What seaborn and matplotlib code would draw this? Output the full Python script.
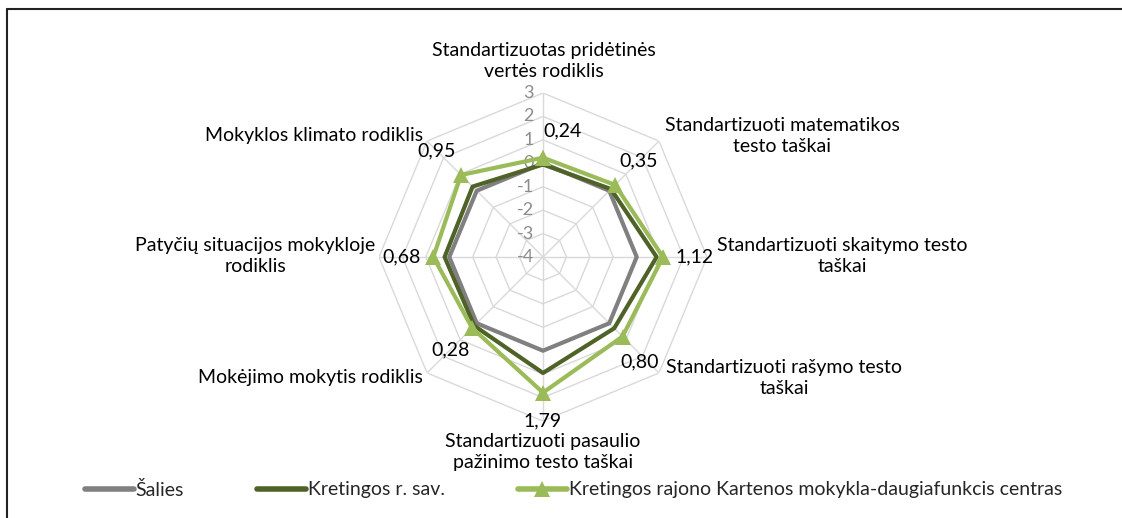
import numpy as np
import pandas as pd
import matplotlib
matplotlib.use('Agg')
import matplotlib.pyplot as plt
import seaborn as sns
from matplotlib.lines import Line2D

# rodikliai (pagal laikrodžio rodyklę nuo viršaus)
categories = [
    'Standartizuotas pridėtinės\nvertės rodiklis',
    'Standartizuoti matematikos\ntesto taškai',
    'Standartizuoti skaitymo testo\ntaškai',
    'Standartizuoti rašymo testo\ntaškai',
    'Standartizuoti pasaulio\npažinimo testo taškai',
    'Mokėjimo mokytis rodiklis',
    'Patyčių situacijos mokykloje\nrodiklis',
    'Mokyklos klimato rodiklis',
]
salies = [0, 0, 0, 0, 0, 0, 0, 0]
kretingos_sav = [-0.05, 0.1, 0.85, 0.3, 0.95, 0.15, 0.2, 0.25]
kartena = [0.24, 0.35, 1.12, 0.80, 1.79, 0.28, 0.68, 0.95]
r_ticks = [-4, -3, -2, -1, 0, 1, 2, 3]

series_names = ['Šalies', 'Kretingos r. sav.',
                'Kretingos rajono Kartenos mokykla-daugiafunkcis centras']
colors = ['#808080', '#4f6228', '#9bbb59']

sns.set_theme(style='white')
plt.rcParams['font.family'] = ['Lato', 'DejaVu Sans']

W, H = 1122, 518
fig = plt.figure(figsize=(W / 100, H / 100), dpi=100)
cx, cy, rad = 543, 257, 164
ax = fig.add_axes([(cx - rad) / W, (H - cy - rad) / H, 2 * rad / W, 2 * rad / H],
                  projection='polar')
ax.set_theta_zero_location('N')
ax.set_theta_direction(-1)

theta = np.linspace(0, 2 * np.pi, len(categories), endpoint=False)
theta_closed = np.append(theta, 2 * np.pi)

# tinklelis - aštuonkampiai
grid_c = '#d9d9d9'
for r in r_ticks[1:]:
    ax.plot(theta_closed, [r] * len(theta_closed), color=grid_c, lw=1, zorder=1)
for t in theta:
    ax.plot([t, t], [r_ticks[0], r_ticks[-1]], color=grid_c, lw=1, zorder=1)

# duomenų linijos
for name, vals, col in zip(series_names, [salies, kretingos_sav, kartena], colors):
    df = pd.DataFrame({'theta': theta_closed, 'value': vals + [vals[0]]})
    mk = '^' if name == series_names[2] else None
    sns.lineplot(data=df, x='theta', y='value', sort=False, estimator=None,
                 color=col, linewidth=3, marker=mk, markersize=12,
                 markeredgewidth=0, ax=ax, label=name, zorder=3)

ax.set_ylim(r_ticks[0], r_ticks[-1])
ax.grid(False)
ax.spines['polar'].set_visible(False)
ax.set_xticks([])
ax.set_yticks([])
ax.set_xlabel('')
ax.set_ylabel('')
ax.get_legend().remove()

# ašies skalės žymės
for v in r_ticks:
    ax.annotate(str(v), xy=(0, v), xytext=(-9, 0),
                textcoords='offset pixels', ha='right', va='center',
                fontsize=13, color='#8c8c8c', zorder=2)

# duomenų žymos (tik mokyklai)
label_off = [(19, 27), (24, 24), (32, 0), (17, -25), (0, -28), (-22, -22), (-32, 0), (-24, 24)]
for t, v, off in zip(theta, kartena, label_off):
    ax.annotate(f'{v:.2f}'.replace('.', ','), xy=(t, v), xytext=off,
                textcoords='offset pixels', ha='center', va='center',
                fontsize=14, color='black', zorder=5)

# kategorijų pavadinimai
cat_pos = [(544, 61, 'center'), (782, 136, 'center'), (717, 256, 'left'),
           (666, 378, 'left'), (543, 452, 'center'), (423, 377, 'right'),
           (255, 256, 'center'), (423, 136, 'right')]
for txt, (px, py, ha) in zip(categories, cat_pos):
    fig.text(px / W, 1 - py / H, txt, ha=ha, va='center', fontsize=14,
             color='black', linespacing=1.3, multialignment='center')

# legenda
leg_x = [85, 257, 518]
for name, col, lx in zip(series_names, colors, leg_x):
    mk = '^' if name == series_names[2] else None
    h = Line2D([], [], color=col, lw=4, marker=mk, markersize=12, markeredgewidth=0)
    fig.legend([h], [name], loc='center left', bbox_to_anchor=(lx / W, 1 - 490 / H),
               frameon=False, fontsize=14, handlelength=2.5, handletextpad=0.1,
               borderpad=0, borderaxespad=0)

# rėmelis
fig.add_artist(Line2D([7 / W, 1], [1 - 9 / H, 1 - 9 / H], color='#222222', lw=1.5))
fig.add_artist(Line2D([7 / W, 7 / W], [0, 1 - 9 / H], color='#222222', lw=1.5))

plt.savefig('out.png', dpi=100)
